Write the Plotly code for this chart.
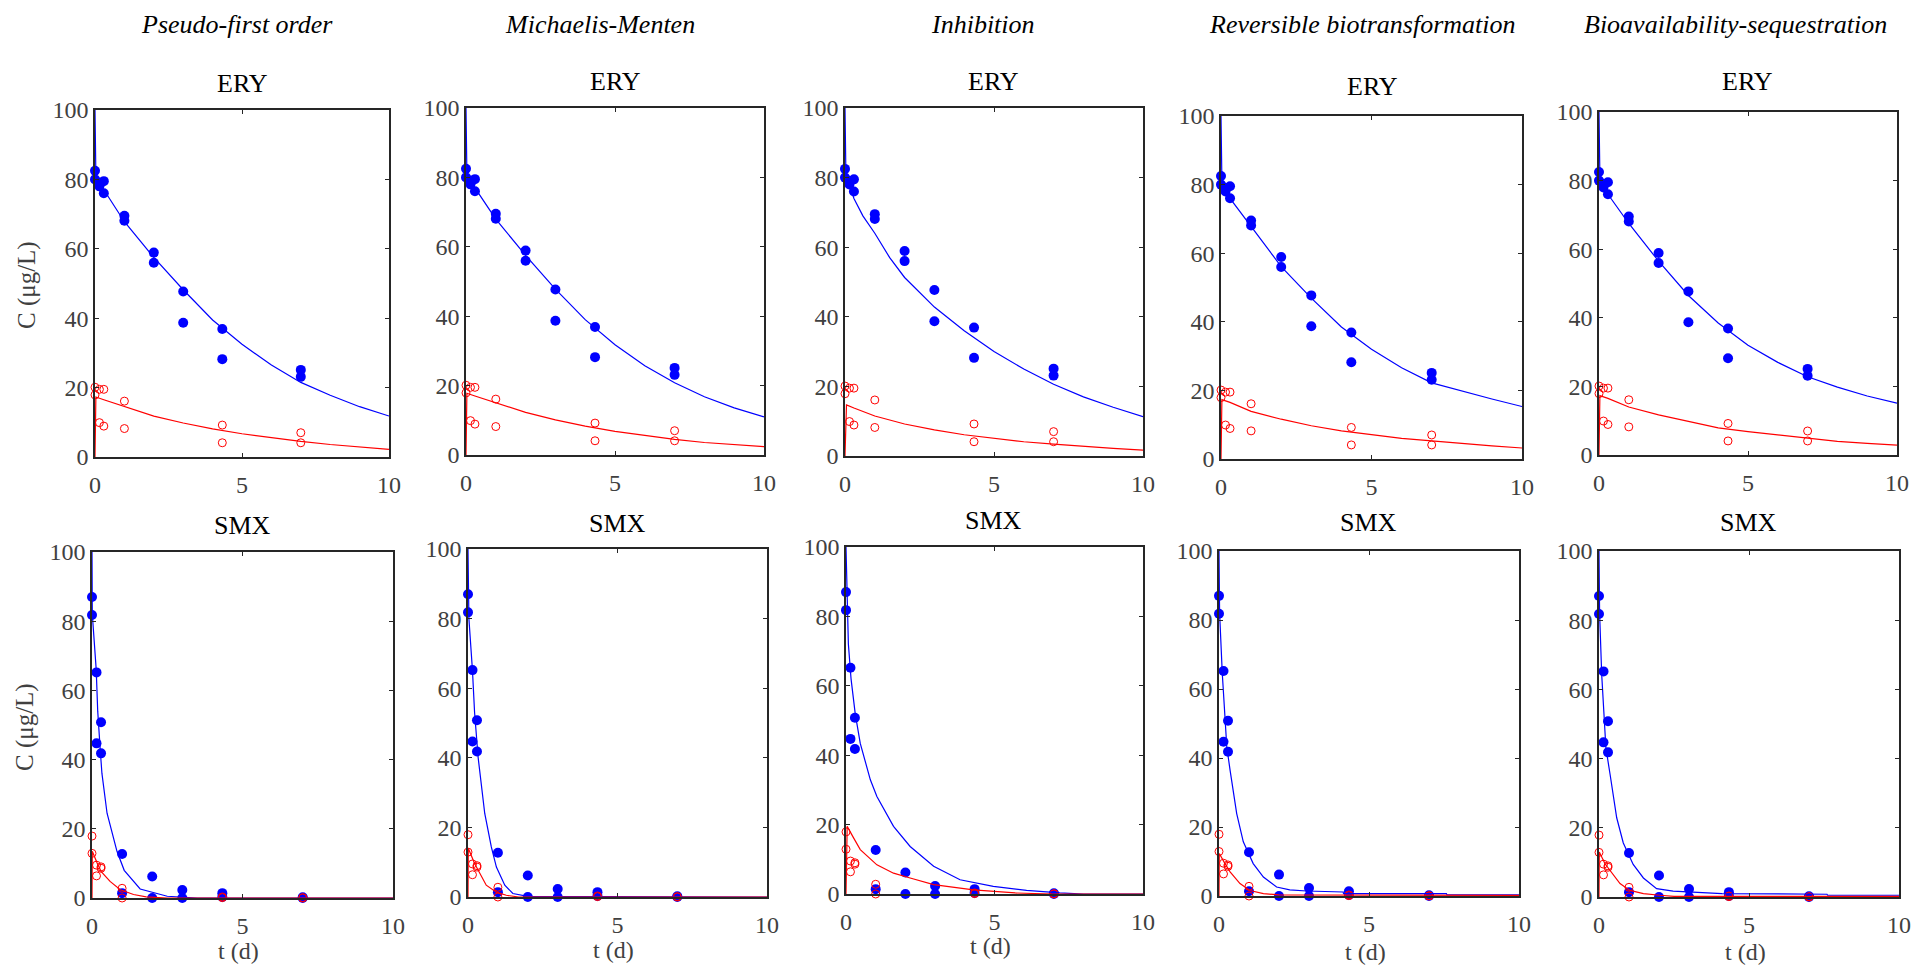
import plotly.graph_objects as go

W, H = 1915, 965

MODELS = ["Pseudo-first order", "Michaelis-Menten", "Inhibition",
          "Reversible biotransformation", "Bioavailability-sequestration"]
COMPOUNDS = ["ERY", "SMX"]

# ---- measured concentrations (duplicate samples per time point) ----
T_AQ_OBS = [0, 0, 0.15, 0.15, 0.3, 0.3, 1, 1, 2, 2, 3, 3, 4.33, 4.33, 7, 7]
ERY_AQ_OBS = [82.5, 80.0, 78.0, 79.0, 79.5, 76.0, 69.5, 68.1, 58.9, 56.0,
              47.7, 38.7, 36.9, 28.2, 25.1, 23.1]
SMX_AQ_OBS = [87.0, 81.8, 65.2, 44.7, 50.8, 41.8, 12.7, 1.4, 6.2, 0.0,
              2.3, 0.0, 1.4, 0.3, 0.2, 0.0]

T_SORB_OBS = [0, 0, 0.15, 0.15, 0.3, 0.3, 1, 1, 4.33, 4.33, 7, 7]
ERY_SORB_OBS = [20.1, 17.9, 19.5, 9.9, 19.5, 8.9, 16.1, 8.2, 9.2, 4.1, 7.0, 4.1]
SMX_SORB_OBS = [17.9, 12.9, 9.5, 6.4, 9.0, 8.6, 2.8, 0.0, 0.3, 0.1, 0.1, 0.0]

# ---- model fits: ERY ----
ERY_FIT_T = [0, 0.03, 0.3, 1, 2, 3, 4, 5, 6, 7, 8, 9, 10]
PFO_ERY_AQ = [100, 81, 77, 67.8, 57.5, 48.2, 39.5, 32.5, 26.5, 21.5, 17.8, 14.5, 11.8]
PFO_ERY_SORB = [0, 17.3, 16.5, 14.5, 11.8, 9.8, 8.1, 6.7, 5.5, 4.5, 3.6, 2.8, 2.2]
MM_ERY_AQ = [100, 81, 77, 68, 57.5, 47.8, 39, 31.8, 25.7, 20.8, 16.8, 13.6, 11.0]
MM_ERY_SORB = [0, 17.8, 17, 15, 12.3, 10.1, 8.3, 6.8, 5.6, 4.5, 3.6, 3.0, 2.4]
REV_ERY_AQ = [100, 81, 76, 67.7, 56.1, 46.9, 38.5, 32, 26.6, 22.2, 19.8, 17.5, 15.3]
REV_ERY_SORB = [0, 17.3, 16.5, 13.9, 11.6, 9.7, 8.2, 7.0, 6.0, 5.3, 4.5, 3.8, 3.2]
BIO_ERY_AQ = [100, 81, 76, 67.5, 56.5, 46.5, 38.5, 32, 27, 22.8, 19.8, 17.2, 15.1]
BIO_ERY_SORB = [0, 17.3, 16.5, 14, 11.7, 9.8, 7.9, 6.8, 5.8, 4.8, 4.0, 3.4, 2.9]

INH_ERY_T = [0, 0.03, 0.3, 0.6, 1, 1.5, 2, 3, 4, 5, 6, 7, 8, 9, 10]
INH_ERY_AQ = [100, 81, 74, 69, 64, 57, 51.3, 42.8, 36, 30, 25, 20.6, 17, 14, 11.3]
INH_ERY_SORB_T = [0, 0.05, 0.3, 1, 2, 3, 4, 5, 6, 7, 8, 9, 10]
INH_ERY_SORB = [0, 14.7, 13.8, 11.5, 9.2, 7.5, 6.1, 5.0, 4.1, 3.4, 2.7, 2.2, 1.7]

# ---- model fits: SMX ----
PFO_SMX_AQ_T = [0, 0.01, 0.14, 0.19, 0.28, 0.33, 0.5, 0.83, 1.07, 1.6, 2.5, 3.5, 10]
PFO_SMX_AQ = [100, 82, 66, 54, 42, 36, 24.5, 13.5, 8, 2.6, 0.5, 0, 0]
PFO_SMX_SORB_T = [0, 0.01, 0.17, 0.3, 0.6, 0.94, 1.38, 1.8, 2.5, 10]
PFO_SMX_SORB = [0, 13.5, 10.1, 7.7, 4.8, 2.4, 1.0, 0.3, 0, 0]

MM_SMX_AQ_T = [0, 0.03, 0.15, 0.22, 0.34, 0.56, 0.78, 0.95, 1.23, 1.5, 2, 10]
MM_SMX_AQ = [100, 80, 65, 53, 40, 24, 14.4, 8.6, 3.4, 1.0, 0.2, 0]
MM_SMX_SORB_T = [0, 0.01, 0.22, 0.39, 0.61, 0.95, 1.28, 1.7, 10]
MM_SMX_SORB = [0, 14, 9.6, 6.7, 3.4, 1.4, 0.5, 0, 0]

INH_SMX_AQ_T = [0, 0.03, 0.08, 0.17, 0.31, 0.48, 0.82, 1.04, 1.6, 2.16, 2.95,
                3.84, 4.4, 4.96, 6.08, 7.2, 8, 10]
INH_SMX_AQ = [100, 85, 72, 62, 52, 43.4, 32.9, 28.1, 19.5, 13.7, 8.0,
              4.1, 3.2, 2.2, 1.05, 0.3, 0, 0]
INH_SMX_SORB_T = [0, 0.04, 0.26, 0.48, 1.04, 1.6, 2.16, 2.95, 4.29, 5, 5.7, 7, 10]
INH_SMX_SORB = [0, 19.5, 16.1, 12.8, 8.4, 6.0, 4.6, 2.7, 1.2, 0.8, 0.3, 0, 0]

REV_SMX_AQ_T = [0, 0.02, 0.11, 0.26, 0.37, 0.59, 0.81, 1.14, 1.48, 1.92, 2.36,
                2.92, 4.14, 4.15, 7.58, 7.6, 10]
REV_SMX_AQ = [100, 82, 64.4, 43.2, 36.4, 23.9, 15.7, 9.4, 5.5, 2.6, 1.8,
              1.45, 1.16, 0.7, 0.7, 0.3, 0.3]
REV_SMX_SORB_T = [0, 0.01, 0.2, 0.37, 0.7, 1.03, 1.48, 2, 10]
REV_SMX_SORB = [0, 12.3, 9.4, 7.0, 3.6, 1.6, 0.7, 0.3, 0.2]

BIO_SMX_AQ_T = [0, 0.02, 0.09, 0.23, 0.37, 0.59, 0.81, 1.14, 1.48, 1.92, 2.47,
                3.4, 4.1, 7.6, 7.62, 10]
BIO_SMX_AQ = [100, 82, 64.3, 43.1, 35.4, 22.9, 15.6, 9.4, 5.5, 2.4, 1.7,
              1.25, 1.0, 0.8, 0.5, 0.5]
BIO_SMX_SORB_T = [0, 0.01, 0.2, 0.37, 0.7, 1.03, 1.48, 2.03, 2.5, 10]
BIO_SMX_SORB = [0, 13, 9.6, 7.7, 3.9, 1.9, 1.0, 0.5, 0.2, 0.2]

FITS = {
    ("ERY", 0): ((ERY_FIT_T, PFO_ERY_AQ), (ERY_FIT_T, PFO_ERY_SORB)),
    ("ERY", 1): ((ERY_FIT_T, MM_ERY_AQ), (ERY_FIT_T, MM_ERY_SORB)),
    ("ERY", 2): ((INH_ERY_T, INH_ERY_AQ), (INH_ERY_SORB_T, INH_ERY_SORB)),
    ("ERY", 3): ((ERY_FIT_T, REV_ERY_AQ), (ERY_FIT_T, REV_ERY_SORB)),
    ("ERY", 4): ((ERY_FIT_T, BIO_ERY_AQ), (ERY_FIT_T, BIO_ERY_SORB)),
    ("SMX", 0): ((PFO_SMX_AQ_T, PFO_SMX_AQ), (PFO_SMX_SORB_T, PFO_SMX_SORB)),
    ("SMX", 1): ((MM_SMX_AQ_T, MM_SMX_AQ), (MM_SMX_SORB_T, MM_SMX_SORB)),
    ("SMX", 2): ((INH_SMX_AQ_T, INH_SMX_AQ), (INH_SMX_SORB_T, INH_SMX_SORB)),
    ("SMX", 3): ((REV_SMX_AQ_T, REV_SMX_AQ), (REV_SMX_SORB_T, REV_SMX_SORB)),
    ("SMX", 4): ((BIO_SMX_AQ_T, BIO_SMX_AQ), (BIO_SMX_SORB_T, BIO_SMX_SORB)),
}
OBS = {
    "ERY": ((T_AQ_OBS, ERY_AQ_OBS), (T_SORB_OBS, ERY_SORB_OBS)),
    "SMX": ((T_AQ_OBS, SMX_AQ_OBS), (T_SORB_OBS, SMX_SORB_OBS)),
}

# axes boxes in pixels: (left, right, top, bottom)
BOXES = {
    ("ERY", 0): (95, 389, 110, 457),
    ("ERY", 1): (466, 764, 108, 455),
    ("ERY", 2): (845, 1143, 108, 456),
    ("ERY", 3): (1221, 1522, 116, 459),
    ("ERY", 4): (1599, 1897, 112, 455),
    ("SMX", 0): (92, 393, 552, 898),
    ("SMX", 1): (468, 767, 549, 897),
    ("SMX", 2): (846, 1143, 547, 894),
    ("SMX", 3): (1219, 1519, 551, 896),
    ("SMX", 4): (1599, 1899, 551, 897),
}
MODEL_TITLE_POS = [(237, 24), (600, 24), (983, 24), (1362, 24), (1735, 24)]
COMPOUND_TITLE_POS = {
    "ERY": [(242, 83), (615, 82), (993, 82), (1372, 86), (1747, 82)],
    "SMX": [(242, 525), (617, 523), (993, 520), (1368, 522), (1748, 522)],
}
XLABEL_POS = [(238, 951), (613, 950), (990, 946), (1365, 952), (1745, 952)]
YLABEL_POS = [(27, 285), (25, 727)]

BLUE = "#0000FF"
RED = "#FF0000"
AXC = "#262626"
TICKC = "#404040"
SERIF = "Liberation Serif"


def px(x, y):
    """Pixel position -> paper coordinates."""
    return x / W, 1 - y / H


fig = go.Figure()
layout = {}
annotations = []

for r, comp in enumerate(COMPOUNDS):
    for c in range(5):
        idx = r * 5 + c + 1
        xs = "x" if idx == 1 else f"x{idx}"
        ys = "y" if idx == 1 else f"y{idx}"
        (ta, ya), (ts, yso) = OBS[comp]
        (fta, fya), (fts, fys) = FITS[(comp, c)]

        fig.add_trace(go.Scatter(x=ta, y=ya, mode="markers", xaxis=xs, yaxis=ys,
                                 marker=dict(color=BLUE, size=10, symbol="circle"),
                                 cliponaxis=False, showlegend=False))
        fig.add_trace(go.Scatter(x=ts, y=yso, mode="markers", xaxis=xs, yaxis=ys,
                                 marker=dict(color=RED, size=8, symbol="circle-open",
                                             line=dict(color=RED, width=1)),
                                 cliponaxis=False, showlegend=False))
        fig.add_trace(go.Scatter(x=fta, y=fya, mode="lines", xaxis=xs, yaxis=ys,
                                 line=dict(color=BLUE, width=1.2), showlegend=False))
        fig.add_trace(go.Scatter(x=fts, y=fys, mode="lines", xaxis=xs, yaxis=ys,
                                 line=dict(color=RED, width=1.2), showlegend=False))

        l, rr, t, b = BOXES[(comp, c)]
        x0, y_top = px(l, t)
        x1, y_bot = px(rr, b)
        common = dict(showline=True, linecolor=AXC, linewidth=1.5, mirror="ticks",
                      ticks="inside", ticklen=4, tickwidth=1, tickcolor=AXC,
                      showgrid=False, zeroline=False, automargin=False,
                      tickfont=dict(family=SERIF, size=24, color=TICKC))
        layout["xaxis" if idx == 1 else f"xaxis{idx}"] = dict(
            domain=[x0, x1], range=[0, 10], tickvals=[0, 5, 10],
            anchor=ys, ticklabelstandoff=5, **common)
        layout["yaxis" if idx == 1 else f"yaxis{idx}"] = dict(
            domain=[y_bot, y_top], range=[0, 100],
            tickvals=[0, 20, 40, 60, 80, 100], anchor=xs, ticklabelstandoff=0,
            **common)

        cx, cy = COMPOUND_TITLE_POS[comp][c]
        ax_, ay_ = px(cx, cy)
        annotations.append(dict(x=ax_, y=ay_, xref="paper", yref="paper",
                                text=comp, showarrow=False, xanchor="center",
                                yanchor="middle",
                                font=dict(family=SERIF, size=26, color="black")))

for c, name in enumerate(MODELS):
    x0, y0 = px(*MODEL_TITLE_POS[c])
    annotations.append(dict(x=x0, y=y0, xref="paper", yref="paper",
                            text=f"<i>{name}</i>", showarrow=False,
                            xanchor="center", yanchor="middle",
                            font=dict(family=SERIF, size=26, color="black")))
    x1, y1 = px(*XLABEL_POS[c])
    annotations.append(dict(x=x1, y=y1, xref="paper", yref="paper",
                            text="t (d)", showarrow=False,
                            xanchor="center", yanchor="middle",
                            font=dict(family=SERIF, size=24, color=TICKC)))

for (lx, ly) in YLABEL_POS:
    x2, y2 = px(lx, ly)
    annotations.append(dict(x=x2, y=y2, xref="paper", yref="paper",
                            text="C (μg/L)", showarrow=False, textangle=-90,
                            xanchor="center", yanchor="middle",
                            font=dict(family=SERIF, size=25, color=TICKC)))

fig.update_layout(width=W, height=H,
                  margin=dict(l=0, r=0, t=0, b=0, pad=0, autoexpand=False),
                  paper_bgcolor="white", plot_bgcolor="white",
                  showlegend=False, annotations=annotations, **layout)

fig.write_html("out.html")
